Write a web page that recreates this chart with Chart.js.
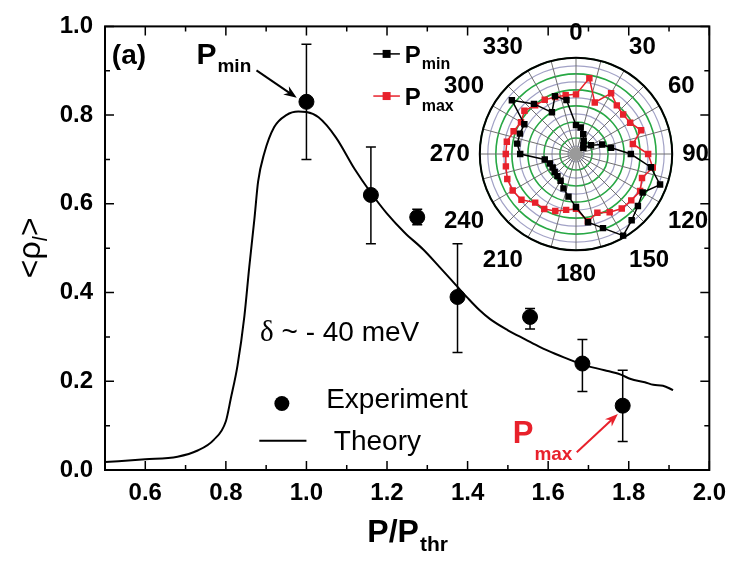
<!DOCTYPE html>
<html>
<head>
<meta charset="utf-8">
<script src="https://cdn.jsdelivr.net/npm/chart.js@4.4.0/dist/chart.umd.min.js"></script>
<style>
  html, body { margin: 0; padding: 0; background: #fff; }
  #wrap { position: relative; width: 735px; height: 565px; }
  #main { position: absolute; left: 0; top: 0; }
  #polar { position: absolute; left: 420px; top: 20px; }
</style>
</head>
<body>
<div id="wrap">
  <canvas id="main" width="735" height="565"></canvas>
  <canvas id="polar" width="300" height="270"></canvas>
</div>
<script>
// main panel: theory curve
const theoryX = [0.50, 0.60, 0.68, 0.73, 0.77, 0.80, 0.812, 0.829, 0.846, 0.858, 0.871, 0.880, 0.895, 0.92, 0.95, 0.98,
                 1.00, 1.03, 1.073, 1.12, 1.16, 1.20, 1.244, 1.29, 1.33, 1.37, 1.40, 1.43, 1.456, 1.50, 1.544, 1.58, 1.617,
                 1.65, 1.683, 1.74, 1.78, 1.805, 1.84, 1.861, 1.885, 1.91];
const theoryY = [0.018, 0.024, 0.030, 0.044, 0.068, 0.11, 0.16, 0.236, 0.347, 0.457, 0.567, 0.65, 0.713, 0.773, 0.80, 0.808,
                 0.807, 0.795, 0.75, 0.678, 0.625, 0.578, 0.535, 0.497, 0.458, 0.418, 0.388, 0.36, 0.34, 0.315, 0.294, 0.277, 0.262,
                 0.25, 0.238, 0.225, 0.215, 0.205, 0.198, 0.192, 0.19, 0.18];

// main panel: experiment points with error bars
const expX    = [1.00, 1.16, 1.275, 1.375, 1.555, 1.685, 1.785];
const expY    = [0.83, 0.62, 0.57, 0.39, 0.345, 0.24, 0.145];
const expLow  = [0.70, 0.51, 0.553, 0.265, 0.318, 0.177, 0.064];
const expHigh = [0.96, 0.728, 0.588, 0.51, 0.364, 0.294, 0.225];

const xTicks = [0.6, 0.8, 1.0, 1.2, 1.4, 1.6, 1.8, 2.0];
const xMinor = [0.7, 0.9, 1.1, 1.3, 1.5, 1.7, 1.9];
const yTicks = [0.0, 0.2, 0.4, 0.6, 0.8, 1.0];
const yMinor = [0.1, 0.3, 0.5, 0.7, 0.9];

// inset: polar plot, angle in degrees, radius as fraction of outer ring
const polarAngles = ['0', '10', '20', '30', '40', '50', '60', '70', '80', '90', '100', '110',
                     '120', '130', '140', '150', '160', '170', '180', '190', '200', '210', '220', '230',
                     '240', '250', '260', '270', '280', '290', '300', '310', '320', '330', '340', '350'];
const pMin = [0.30, 0.28, 0.22, 0.16, 0.12, 0.10, 0.18, 0.29, 0.37, 0.57, 0.79, 0.93,
              0.80, 0.84, 0.90, 0.98, 0.82, 0.72, 0.55, 0.45, 0.38, 0.32, 0.30, 0.29,
              0.28, 0.29, 0.33, 0.58, 0.62, 0.62, 0.62, 0.87, 0.68, 0.50, 0.64, 0.57];
const pMax = [0.62, 0.80, 0.57, 0.73, 0.66, 0.64, 0.65, 0.72, 0.60, 0.75, 0.81, 0.73,
              0.77, 0.75, 0.74, 0.70, 0.65, 0.71, 0.57, 0.59, 0.63, 0.66, 0.66, 0.74,
              0.76, 0.76, 0.74, 0.73, 0.73, 0.69, 0.66, 0.70, 0.66, 0.65, 0.63, 0.62];
const spokeAngles = [0, 15, 30, 45, 60, 75, 90, 105, 120, 135, 150, 165,
                     180, 195, 210, 225, 240, 255, 270, 285, 300, 315, 330, 345];

const FONT = '"Liberation Sans", Arial, sans-serif';
const RED = '#e8212b';

function textWithSub(ctx, x, y, main, sub, size, subSize, drop, color, weight) {
  ctx.fillStyle = color;
  ctx.font = `${weight} ${size}px ${FONT}`;
  ctx.fillText(main, x, y);
  const w = ctx.measureText(main).width;
  ctx.font = `${weight} ${subSize}px ${FONT}`;
  ctx.fillText(sub, x + w + 1, y + drop);
}

function arrow(ctx, x1, y1, x2, y2, color) {
  const ang = Math.atan2(y2 - y1, x2 - x1);
  const L = 13, W = 5;
  ctx.strokeStyle = color;
  ctx.fillStyle = color;
  ctx.lineWidth = 2;
  ctx.beginPath();
  ctx.moveTo(x1, y1);
  ctx.lineTo(x2 - Math.cos(ang) * 8, y2 - Math.sin(ang) * 8);
  ctx.stroke();
  ctx.beginPath();
  ctx.moveTo(x2, y2);
  ctx.lineTo(x2 - L * Math.cos(ang) + W * Math.sin(ang), y2 - L * Math.sin(ang) - W * Math.cos(ang));
  ctx.lineTo(x2 - 9 * Math.cos(ang), y2 - 9 * Math.sin(ang));
  ctx.lineTo(x2 - L * Math.cos(ang) - W * Math.sin(ang), y2 - L * Math.sin(ang) + W * Math.cos(ang));
  ctx.closePath();
  ctx.fill();
}

const decorPlugin = {
  id: 'decor',
  afterDatasetsDraw(chart) {
    const { ctx, chartArea: a, scales: { x, y } } = chart;
    const X = v => x.getPixelForValue(v);
    const Y = v => y.getPixelForValue(v);
    ctx.save();

    // error bars
    ctx.strokeStyle = '#000';
    ctx.lineWidth = 1.5;
    expX.forEach((v, i) => {
      const px = X(v), lo = Y(expLow[i]), hi = Y(expHigh[i]);
      ctx.beginPath();
      ctx.moveTo(px, lo); ctx.lineTo(px, hi);
      ctx.moveTo(px - 5, lo); ctx.lineTo(px + 5, lo);
      ctx.moveTo(px - 5, hi); ctx.lineTo(px + 5, hi);
      ctx.stroke();
    });

    // frame + inward ticks on all four sides
    ctx.lineWidth = 2;
    ctx.strokeRect(a.left, a.top, a.right - a.left, a.bottom - a.top);
    ctx.lineWidth = 1.5;
    ctx.beginPath();
    const xt = (v, len) => {
      ctx.moveTo(X(v), a.bottom); ctx.lineTo(X(v), a.bottom - len);
      ctx.moveTo(X(v), a.top); ctx.lineTo(X(v), a.top + len);
    };
    const yt = (v, len) => {
      ctx.moveTo(a.left, Y(v)); ctx.lineTo(a.left + len, Y(v));
      ctx.moveTo(a.right, Y(v)); ctx.lineTo(a.right - len, Y(v));
    };
    xTicks.forEach(v => xt(v, 9));
    xMinor.forEach(v => xt(v, 5));
    yTicks.forEach(v => yt(v, 9));
    yMinor.forEach(v => yt(v, 5));
    ctx.stroke();

    ctx.textBaseline = 'alphabetic';
    ctx.textAlign = 'left';

    // panel label
    ctx.fillStyle = '#000';
    ctx.font = `bold 28px ${FONT}`;
    ctx.fillText('(a)', X(0.517), Y(0.916));

    // Pmin annotation
    textWithSub(ctx, X(0.727), Y(0.916), 'P', 'min', 30, 19, 8, '#000', 'bold');
    arrow(ctx, X(0.876), Y(0.901), X(0.976), Y(0.839), '#000');

    // Pmax annotation
    textWithSub(ctx, X(1.512), Y(0.060), 'P', 'max', 31, 19, 17, RED, 'bold');
    arrow(ctx, X(1.671), Y(0.040), X(1.773), Y(0.126), RED);

    // delta text
    ctx.fillStyle = '#000';
    ctx.strokeStyle = '#000';
    ctx.font = `29px "Liberation Serif", serif`;
    ctx.fillText('\u03b4', X(0.885), Y(0.291));
    const dw = ctx.measureText('\u03b4').width;
    ctx.font = `28px ${FONT}`;
    ctx.fillText(' ~ - 40 meV', X(0.885) + dw, Y(0.291));

    // main legend
    ctx.beginPath();
    ctx.arc(X(0.939), Y(0.150), 7.5, 0, Math.PI * 2);
    ctx.fill();
    ctx.font = `28px ${FONT}`;
    ctx.fillText('Experiment', X(1.049), Y(0.139));
    ctx.lineWidth = 2;
    ctx.beginPath();
    ctx.moveTo(X(0.883), Y(0.066)); ctx.lineTo(X(1.0), Y(0.066));
    ctx.stroke();
    ctx.fillText('Theory', X(1.068), Y(0.046));

    // inset legend
    const legendRow = (yv, color, sub) => {
      ctx.strokeStyle = color; ctx.fillStyle = color; ctx.lineWidth = 1.5;
      ctx.beginPath();
      ctx.moveTo(X(1.166), Y(yv)); ctx.lineTo(X(1.232), Y(yv));
      ctx.stroke();
      ctx.fillRect(X(1.199) - 4, Y(yv) - 4, 8, 8);
      textWithSub(ctx, X(1.244), Y(yv) + 9, 'P', sub, 24, 16, 6, '#000', 'bold');
    };
    legendRow(0.938, '#000', 'min');
    legendRow(0.843, RED, 'max');

    // x axis title
    ctx.fillStyle = '#000';
    ctx.font = `bold 32px ${FONT}`;
    const mw = ctx.measureText('P/P').width;
    ctx.font = `bold 21px ${FONT}`;
    const sw = ctx.measureText('thr').width;
    const cx = (a.left + a.right) / 2 - (mw + sw) / 2;
    textWithSub(ctx, cx, 542, 'P/P', 'thr', 32, 21, 9, '#000', 'bold');

    // y axis title, rotated
    ctx.save();
    ctx.translate(40, (a.top + a.bottom) / 2);
    ctx.rotate(-Math.PI / 2);
    ctx.fillStyle = '#000';
    ctx.font = `32px ${FONT}`;
    const parts = ['<\u03c1', 'l', '>'];
    const w1 = ctx.measureText(parts[0]).width;
    ctx.font = `italic 20px ${FONT}`;
    const w2 = ctx.measureText(parts[1]).width;
    ctx.font = `32px ${FONT}`;
    const w3 = ctx.measureText(parts[2]).width;
    const sx = -(w1 + w2 + w3) / 2;
    ctx.fillText(parts[0], sx, 0);
    ctx.font = `italic 20px ${FONT}`;
    ctx.fillText(parts[1], sx + w1, 7);
    ctx.font = `32px ${FONT}`;
    ctx.fillText(parts[2], sx + w1 + w2 + 1, 0);
    ctx.restore();

    ctx.restore();
  }
};

new Chart(document.getElementById('main'), {
  type: 'scatter',
  data: {
    datasets: [
      {
        label: 'Theory',
        data: theoryX.map((v, i) => ({ x: v, y: theoryY[i] })),
        showLine: true,
        borderColor: '#000',
        borderWidth: 2,
        pointRadius: 0,
        cubicInterpolationMode: 'monotone'
      },
      {
        label: 'Experiment',
        data: expX.map((v, i) => ({ x: v, y: expY[i] })),
        backgroundColor: '#000',
        borderColor: '#000',
        pointRadius: 7.5
      }
    ]
  },
  options: {
    responsive: false,
    animation: false,
    layout: { padding: { top: 17, right: 15, left: 0, bottom: 0 } },
    plugins: { legend: { display: false }, tooltip: { enabled: false } },
    scales: {
      x: {
        type: 'linear',
        min: 0.5,
        max: 2.0,
        afterBuildTicks: s => { s.ticks = xTicks.map(v => ({ value: v })); },
        afterFit: s => { s.height = 95; },
        grid: { display: false, drawTicks: false },
        border: { display: false },
        ticks: {
          color: '#000',
          padding: 9,
          maxRotation: 0,
          font: { family: FONT, size: 24, weight: 'bold' },
          callback: v => Number(v).toFixed(1)
        }
      },
      y: {
        min: 0,
        max: 1,
        afterBuildTicks: s => { s.ticks = yTicks.map(v => ({ value: v })); },
        afterFit: s => { s.width = 105; },
        grid: { display: false, drawTicks: false },
        border: { display: false },
        ticks: {
          color: '#000',
          padding: 12,
          font: { family: FONT, size: 24, weight: 'bold' },
          callback: v => Number(v).toFixed(1)
        }
      }
    }
  },
  plugins: [decorPlugin]
});

// inset polar chart
const polarDecor = {
  id: 'polarDecor',
  beforeDatasetsDraw(chart) {
    const { ctx } = chart;
    const r = chart.scales.r;
    const R = r.getDistanceFromCenterForValue(1);
    ctx.save();
    ctx.strokeStyle = '#6e6e6e';
    ctx.lineWidth = 1;
    ctx.beginPath();
    spokeAngles.forEach(d => {
      const t = d * Math.PI / 180 - Math.PI / 2;
      ctx.moveTo(r.xCenter, r.yCenter);
      ctx.lineTo(r.xCenter + R * Math.cos(t), r.yCenter + R * Math.sin(t));
    });
    ctx.stroke();
    ctx.fillStyle = '#9a9a9a';
    ctx.beginPath();
    ctx.arc(r.xCenter, r.yCenter, r.getDistanceFromCenterForValue(0.07), 0, Math.PI * 2);
    ctx.fill();
    ctx.strokeStyle = '#000';
    ctx.lineWidth = 2;
    ctx.beginPath();
    ctx.arc(r.xCenter, r.yCenter, R, 0, Math.PI * 2);
    ctx.stroke();
    ctx.restore();
  }
};

new Chart(document.getElementById('polar'), {
  type: 'radar',
  data: {
    labels: polarAngles,
    datasets: [
      {
        label: 'Pmin',
        data: pMin,
        borderColor: '#000',
        backgroundColor: '#000',
        borderWidth: 1.5,
        pointStyle: 'rect',
        pointRadius: 3.5,
        fill: false
      },
      {
        label: 'Pmax',
        data: pMax,
        borderColor: RED,
        backgroundColor: RED,
        borderWidth: 1.5,
        pointStyle: 'rect',
        pointRadius: 3.5,
        fill: false
      }
    ]
  },
  options: {
    responsive: false,
    animation: false,
    plugins: { legend: { display: false }, tooltip: { enabled: false } },
    layout: { padding: 0 },
    scales: {
      r: {
        min: 0,
        max: 1,
        ticks: { display: false, count: 13 },
        angleLines: { display: false },
        grid: {
          circular: true,
          color: c => (c.index % 2 === 0 ? '#27a844' : '#a2a2c6'),
          lineWidth: c => (c.index % 2 === 0 ? 1.6 : 1.2)
        },
        pointLabels: {
          color: '#000',
          padding: 10,
          font: { family: FONT, size: 24, weight: 'bold' },
          callback: (l, i) => (i % 3 === 0 ? l : '')
        }
      }
    }
  },
  plugins: [polarDecor]
});
</script>
</body>
</html>
